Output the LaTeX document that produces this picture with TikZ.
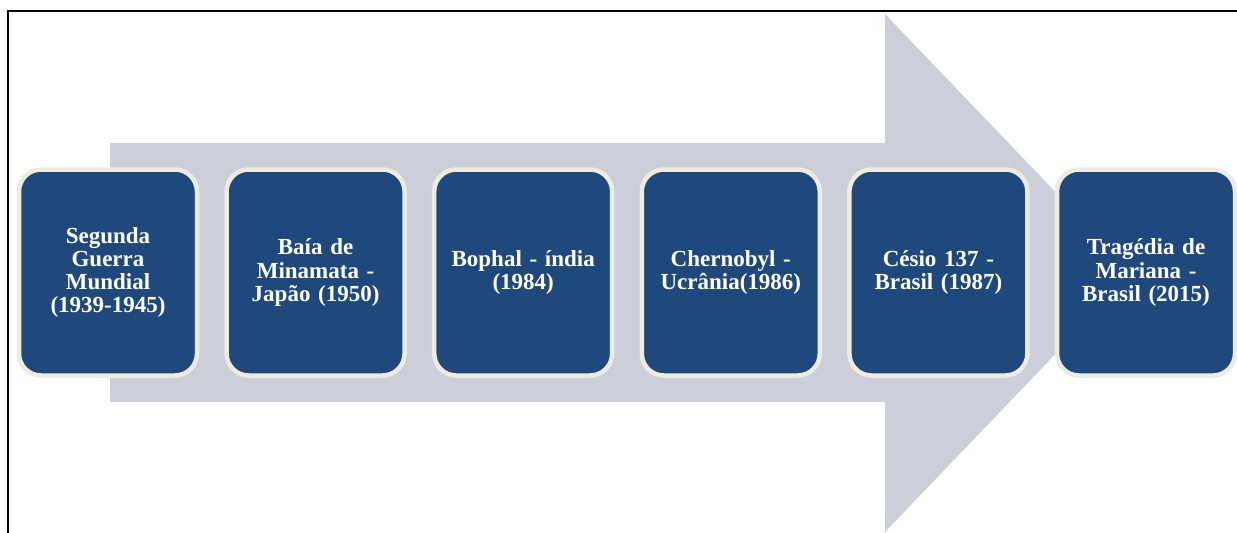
\documentclass[tikz,border=0pt]{standalone}
\usepackage{fontspec}
\setmainfont{Liberation Serif}
\usetikzlibrary{positioning}
\definecolor{azulcaixa}{RGB}{31,73,125}
\definecolor{bordacaixa}{RGB}{238,236,225}
\definecolor{cinzaseta}{RGB}{204,207,217}
\tikzset{
	every node/.style={
		font=\fontsize{11.5}{11.6}\selectfont\bfseries
	},
	evento/.style={
		shape=rectangle,
		minimum width=89pt,
		minimum height=103pt,
		text width=80pt,
		text centered,
		rounded corners=11pt,
		fill=azulcaixa,
		draw=bordacaixa,
		line width=2.25pt,
		text=white
	},
	seta/.style={
		fill=cinzaseta
	},
	moldura/.style={
		draw=black,
		line width=1pt
	}
}

\begin{document}
\begin{tikzpicture}[x=0.5pt,y=-0.5pt,node distance=103.8pt]
	\useasboundingbox (0,0) rectangle (1237,532);
	\clip (0,0) rectangle (1237,532);
	\draw[moldura] (8,11) rectangle (1260,560);
	
	% seta ao fundo
	\fill[seta] (110,143) -- (885,143) -- (885,14) -- (1133,273)
	-- (885,532) -- (885,402) -- (110,402) -- cycle;
	
	\node[evento] (guerra)                      at (108,272.5) {Segunda\\ Guerra\\ Mundial\\ (1939-1945)};
	\node[evento] (minamata)  [right of=guerra]   {Baía de\\ Minamata -\\ Japão (1950)};
	\node[evento] (bophal)    [right of=minamata] {Bophal - índia\\ (1984)};
	\node[evento] (chernobyl) [right of=bophal]   {Chernobyl -\\ Ucrânia(1986)};
	\node[evento] (cesio)     [right of=chernobyl] {Césio 137 -\\ Brasil (1987)};
	\node[evento] (mariana)   [right of=cesio]    {Tragédia de\\ Mariana -\\ Brasil (2015)};
\end{tikzpicture}
\end{document}
